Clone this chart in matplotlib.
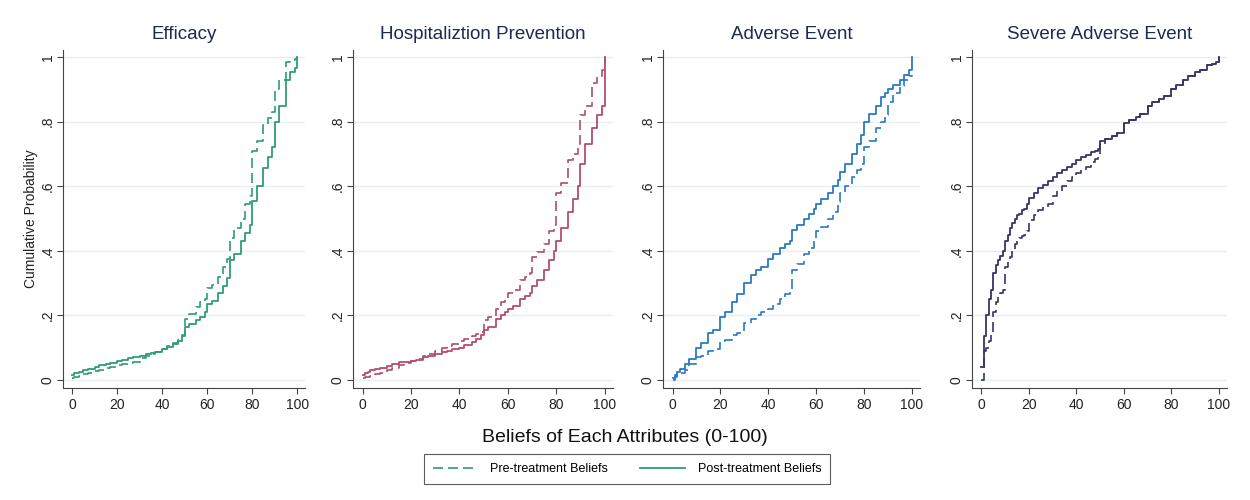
import matplotlib
matplotlib.use("Agg")
import matplotlib.pyplot as plt
from matplotlib.lines import Line2D

plt.rcParams['font.family'] = ['Liberation Sans', 'DejaVu Sans']

# Belief grid (0-100) and cumulative probabilities
x_grid = [0, 1, 2, 3, 5, 7, 10, 12, 15, 17, 20, 22, 25, 27, 30, 33, 35, 37, 40, 42, 45, 47, 49,
          50, 52, 55, 57, 59, 60, 62, 65, 67, 69, 70, 72, 75, 77, 79, 80, 82, 85, 87, 89,
          90, 92, 95, 97, 99, 100]

eff_pre = [0.005, 0.008, 0.010, 0.012, 0.017, 0.022, 0.028, 0.032, 0.037, 0.040, 0.045, 0.048,
           0.053, 0.057, 0.068, 0.075, 0.080, 0.085, 0.097, 0.105, 0.115, 0.125, 0.140,
           0.190, 0.205, 0.225, 0.240, 0.250, 0.285, 0.295, 0.320, 0.350, 0.375, 0.440, 0.470,
           0.500, 0.545, 0.570, 0.710, 0.740, 0.790, 0.810, 0.830, 0.900, 0.930, 0.985, 0.990,
           0.995, 1.000]
eff_post = [0.015, 0.020, 0.022, 0.025, 0.030, 0.035, 0.040, 0.045, 0.050, 0.053, 0.058, 0.062,
            0.067, 0.070, 0.075, 0.080, 0.083, 0.087, 0.095, 0.102, 0.112, 0.122, 0.135,
            0.165, 0.172, 0.185, 0.195, 0.210, 0.235, 0.245, 0.270, 0.290, 0.315, 0.370, 0.390,
            0.430, 0.455, 0.480, 0.555, 0.600, 0.655, 0.690, 0.720, 0.800, 0.850, 0.930, 0.955,
            0.965, 1.000]

hosp_pre = [0.005, 0.008, 0.010, 0.013, 0.018, 0.023, 0.030, 0.036, 0.045, 0.052, 0.060, 0.065,
            0.073, 0.080, 0.090, 0.098, 0.104, 0.110, 0.120, 0.126, 0.135, 0.143, 0.150,
            0.185, 0.195, 0.220, 0.240, 0.250, 0.270, 0.280, 0.310, 0.320, 0.330, 0.380, 0.395,
            0.420, 0.460, 0.480, 0.580, 0.610, 0.680, 0.700, 0.730, 0.820, 0.850, 0.920, 0.940,
            0.960, 1.000]
hosp_post = [0.015, 0.020, 0.025, 0.030, 0.035, 0.038, 0.042, 0.048, 0.055, 0.057, 0.060, 0.063,
             0.070, 0.073, 0.080, 0.085, 0.090, 0.095, 0.100, 0.108, 0.118, 0.128, 0.140,
             0.155, 0.165, 0.190, 0.200, 0.210, 0.220, 0.230, 0.250, 0.260, 0.270, 0.290, 0.310,
             0.340, 0.370, 0.400, 0.430, 0.470, 0.520, 0.560, 0.600, 0.670, 0.730, 0.780, 0.820,
             0.850, 1.000]

adv_pre = [0.000, 0.010, 0.015, 0.020, 0.030, 0.050, 0.070, 0.075, 0.090, 0.095, 0.120, 0.125,
           0.140, 0.145, 0.175, 0.190, 0.200, 0.210, 0.220, 0.235, 0.250, 0.265, 0.280,
           0.340, 0.360, 0.390, 0.410, 0.430, 0.460, 0.475, 0.500, 0.520, 0.550, 0.580, 0.600,
           0.630, 0.650, 0.670, 0.720, 0.740, 0.780, 0.800, 0.820, 0.860, 0.890, 0.910, 0.930,
           0.940, 0.945]
adv_post = [0.005, 0.015, 0.025, 0.035, 0.050, 0.065, 0.100, 0.115, 0.145, 0.155, 0.195, 0.210,
            0.240, 0.265, 0.300, 0.325, 0.340, 0.350, 0.375, 0.390, 0.410, 0.420, 0.430,
            0.465, 0.480, 0.500, 0.515, 0.530, 0.545, 0.560, 0.580, 0.600, 0.620, 0.645, 0.670,
            0.700, 0.730, 0.760, 0.800, 0.825, 0.850, 0.875, 0.890, 0.900, 0.915, 0.930, 0.945,
            0.960, 1.000]

# Severe adverse event needs a finer grid
x_sev = [0, 1, 2, 3, 4, 5, 6, 7, 8, 9, 10, 11, 12, 13, 14, 15, 16, 17, 18, 19, 20,
         22, 24, 26, 28, 30, 32, 34, 36, 38, 40, 42, 44, 46, 48, 49, 50,
         52, 55, 57, 60, 62, 65, 67, 70, 72, 75, 77, 80, 82, 85, 87, 90, 92, 95, 97, 99, 100]
sev_pre = [0.000, 0.090, 0.100, 0.120, 0.150, 0.210, 0.240, 0.260, 0.270, 0.280, 0.350, 0.370,
           0.380, 0.400, 0.420, 0.430, 0.440, 0.445, 0.450, 0.460, 0.495,
           0.510, 0.525, 0.535, 0.545, 0.570, 0.585, 0.600, 0.615, 0.630, 0.640, 0.650, 0.660,
           0.675, 0.685, 0.690, 0.730,
           0.745, 0.755, 0.765, 0.795, 0.805, 0.815, 0.825, 0.850, 0.860, 0.870, 0.880, 0.900,
           0.915, 0.930, 0.940, 0.955, 0.960, 0.975, 0.980, 0.985, 1.000]
sev_post = [0.040, 0.135, 0.200, 0.250, 0.280, 0.330, 0.355, 0.370, 0.385, 0.400, 0.430, 0.450,
            0.470, 0.485, 0.500, 0.510, 0.515, 0.525, 0.530, 0.545, 0.565,
            0.580, 0.595, 0.605, 0.615, 0.630, 0.640, 0.650, 0.660, 0.670, 0.680, 0.690, 0.697,
            0.705, 0.710, 0.715, 0.740,
            0.745, 0.755, 0.765, 0.795, 0.805, 0.815, 0.825, 0.850, 0.860, 0.870, 0.880, 0.900,
            0.915, 0.930, 0.940, 0.955, 0.960, 0.975, 0.980, 0.985, 1.000]

titles = ["Efficacy", "Hospitaliztion Prevention", "Adverse Event", "Severe Adverse Event"]
xs = [x_grid, x_grid, x_grid, x_sev]
pres = [eff_pre, hosp_pre, adv_pre, sev_pre]
posts = [eff_post, hosp_post, adv_post, sev_post]
colors = ["#2e9c77", "#b34d6c", "#2a78c6", "#36346a"]

# axes rectangles in pixels (left, right) of a 1250x500 figure
panel_px = [(63, 305), (353, 613), (663, 920), (972, 1227)]
bottom, top = 1 - 388 / 500, 1 - 50 / 500

fig = plt.figure(figsize=(12.5, 5), dpi=100)
fig.patch.set_facecolor("white")

for i in range(4):
    l, r = panel_px[i]
    ax = fig.add_axes([l / 1250, bottom, (r - l) / 1250, top - bottom])
    ax.plot(xs[i], pres[i], drawstyle="steps-post", color=colors[i], lw=1.2,
            dashes=(6, 3))
    ax.plot(xs[i], posts[i], drawstyle="steps-post", color=colors[i], lw=1.3)
    ax.set_xlim(-4, 103.5)
    ax.set_ylim(-0.025, 1.022)
    ax.set_xticks([0, 20, 40, 60, 80, 100])
    ax.set_yticks([0, 0.2, 0.4, 0.6, 0.8, 1])
    ax.set_yticklabels(["0", ".2", ".4", ".6", ".8", "1"], rotation=90, va="center")
    ax.tick_params(labelsize=10, color="#444444", length=4, labelcolor="#222222")
    ax.tick_params(axis="y", pad=2)
    ax.grid(axis="y", color="#e6eef1", lw=1)
    ax.set_axisbelow(True)
    for s in ["top", "right"]:
        ax.spines[s].set_visible(False)
    for s in ["left", "bottom"]:
        ax.spines[s].set_color("#444444")
    ax.set_title(titles[i], fontsize=13.5, color="#1c2a55", pad=8)
    if i == 0:
        ax.set_ylabel("Cumulative Probability", fontsize=10, color="#222222", labelpad=2)

fig.text(0.5, 1 - 438 / 500, "Beliefs of Each Attributes (0-100)", ha="center", va="center",
         fontsize=14, color="#111111")

handles = [Line2D([], [], color=colors[0], lw=1.2, dashes=(6, 3)),
           Line2D([], [], color=colors[0], lw=1.3)]
leg = fig.legend(handles, ["Pre-treatment Beliefs", "Post-treatment Beliefs"],
                 loc="center", bbox_to_anchor=(627 / 1250, 1 - 469 / 500), ncol=2,
                 fontsize=9, frameon=True, fancybox=False, edgecolor="#333333",
                 handlelength=3.6, columnspacing=2.6, handletextpad=1.0, borderpad=0.7)
leg.get_frame().set_linewidth(0.8)

fig.savefig("out.png", dpi=100, facecolor="white")
